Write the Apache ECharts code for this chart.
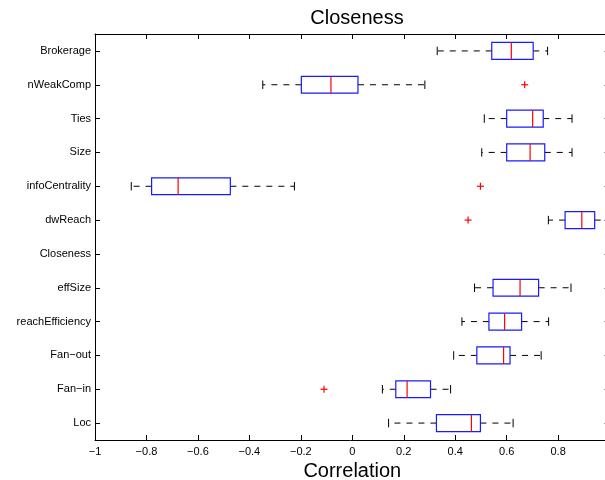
<!DOCTYPE html>
<html>
<head>
<meta charset="utf-8">
<title>Closeness</title>
<script src="https://cdn.jsdelivr.net/npm/echarts@6/dist/echarts.min.js"></script>
<style>
  html, body { margin: 0; padding: 0; background: #fff; }
  #chart { width: 605px; height: 480px; }
</style>
</head>
<body>
<div id="chart"></div>
<script>
// Measures, listed top to bottom
const categories = ['Brokerage', 'nWeakComp', 'Ties', 'Size', 'infoCentrality', 'dwReach',
  'Closeness', 'effSize', 'reachEfficiency', 'Fan\u2212out', 'Fan\u2212in', 'Loc'];

// Box statistics per measure (null where there is no box)
const whiskerLow  = [0.330, -0.348, 0.513, 0.503, -0.859, 0.762, null, 0.475, 0.426, 0.394, 0.117, 0.141];
const quartile1   = [0.542, -0.198, 0.600, 0.600, -0.780, 0.827, null, 0.547, 0.531, 0.484, 0.169, 0.327];
const medians     = [0.618, -0.083, 0.701, 0.691, -0.677, 0.892, null, 0.652, 0.592, 0.588, 0.213, 0.463];
const quartile3   = [0.703,  0.022, 0.742, 0.748, -0.474, 0.942, null, 0.724, 0.658, 0.613, 0.304, 0.498];
const whiskerHigh = [0.759,  0.282, 0.854, 0.854, -0.225, 0.985, null, 0.850, 0.763, 0.734, 0.382, 0.625];

// Outliers: measure name and value
const outlierNames  = ['nWeakComp', 'infoCentrality', 'dwReach', 'Fan\u2212in'];
const outlierValues = [0.670, 0.498, 0.450, -0.110];

// X axis
const xMin = -1, xMax = 1, xStep = 0.2;

const FONT = '"Liberation Sans", Arial, Helvetica, sans-serif';

const boxData = [];
categories.forEach((c, i) => {
  if (medians[i] === null) return;
  boxData.push([i, whiskerLow[i], quartile1[i], medians[i], quartile3[i], whiskerHigh[i]]);
});
const outlierData = outlierNames.map((n, k) => [categories.indexOf(n), outlierValues[k]]);

function renderBox(params, api) {
  const cat = api.value(0);
  const lo = api.coord([api.value(1), cat]);
  const q1 = api.coord([api.value(2), cat]);
  const md = api.coord([api.value(3), cat]);
  const q3 = api.coord([api.value(4), cat]);
  const hi = api.coord([api.value(5), cat]);
  const band = api.size([0, 1])[1];
  const hb = band * 0.25;    // half box height
  const hc = band * 0.125;   // half whisker-cap height
  const y = lo[1];
  const dash = { stroke: '#000', lineWidth: 1, lineDash: [6, 6] };
  const solid = { stroke: '#000', lineWidth: 1 };
  return {
    type: 'group',
    children: [
      { type: 'line', shape: { x1: q1[0], y1: y, x2: lo[0], y2: y }, style: dash },
      { type: 'line', shape: { x1: q3[0], y1: y, x2: hi[0], y2: y }, style: dash },
      { type: 'line', shape: { x1: lo[0], y1: y - hc, x2: lo[0], y2: y + hc }, style: solid },
      { type: 'line', shape: { x1: hi[0], y1: y - hc, x2: hi[0], y2: y + hc }, style: solid },
      { type: 'rect', shape: { x: q1[0], y: y - hb, width: q3[0] - q1[0], height: 2 * hb },
        style: { stroke: '#1a1aff', lineWidth: 1.2, fill: 'none' } },
      { type: 'line', shape: { x1: md[0], y1: y - hb, x2: md[0], y2: y + hb },
        style: { stroke: '#ff0000', lineWidth: 1.2 } }
    ]
  };
}

function renderOutlier(params, api) {
  const p = api.coord([api.value(1), api.value(0)]);
  const r = 3.5;
  const st = { stroke: '#ff0000', lineWidth: 1.2 };
  return {
    type: 'group',
    children: [
      { type: 'line', shape: { x1: p[0] - r, y1: p[1], x2: p[0] + r, y2: p[1] }, style: st },
      { type: 'line', shape: { x1: p[0], y1: p[1] - r, x2: p[0], y2: p[1] + r }, style: st }
    ]
  };
}

const axisLine = { show: true, onZero: false, lineStyle: { color: '#000', width: 1 } };
const tickIn = { show: true, inside: true, length: 5, lineStyle: { color: '#000', width: 1 } };

const chart = echarts.init(document.getElementById('chart'), null, { renderer: 'canvas' });
chart.setOption({
  animation: false,
  backgroundColor: '#fff',
  title: {
    text: 'Closeness',
    left: 352, top: 3, textAlign: 'center',
    textStyle: { fontFamily: FONT, fontSize: 20, fontWeight: 'normal', color: '#000' }
  },
  grid: { left: 95, top: 34, right: -4.6, bottom: 40, containLabel: false, outerBoundsMode: 'none' },
  xAxis: [
    {
      type: 'value', position: 'bottom', min: xMin, max: xMax, interval: xStep,
      axisLine, axisTick: tickIn, splitLine: { show: false },
      axisLabel: {
        margin: 6, color: '#000', fontFamily: FONT, fontSize: 11,
        formatter: v => String(Math.round(v * 10) / 10).replace('-', '\u2212')
      },
      name: 'Correlation', nameLocation: 'middle', nameGap: 12,
      nameTextStyle: { fontFamily: FONT, fontSize: 20, color: '#000' }
    },
    {
      type: 'value', position: 'top', min: xMin, max: xMax, interval: xStep,
      axisLine, axisTick: tickIn, axisLabel: { show: false }, splitLine: { show: false }
    }
  ],
  yAxis: [
    {
      type: 'category', data: categories, inverse: true, position: 'left',
      axisLine, axisTick: Object.assign({ alignWithLabel: true }, tickIn),
      axisLabel: { margin: 4, color: '#000', fontFamily: FONT, fontSize: 11 },
      splitLine: { show: false }
    },
    {
      type: 'category', data: categories, inverse: true, position: 'right',
      axisLine, axisTick: Object.assign({ alignWithLabel: true }, tickIn),
      axisLabel: { show: false }, splitLine: { show: false }
    }
  ],
  series: [
    {
      type: 'custom', renderItem: renderBox, data: boxData,
      encode: { x: [1, 2, 3, 4, 5], y: 0 }, clip: false
    },
    {
      type: 'custom', renderItem: renderOutlier, data: outlierData,
      encode: { x: 1, y: 0 }, clip: false
    }
  ]
});
</script>
</body>
</html>
